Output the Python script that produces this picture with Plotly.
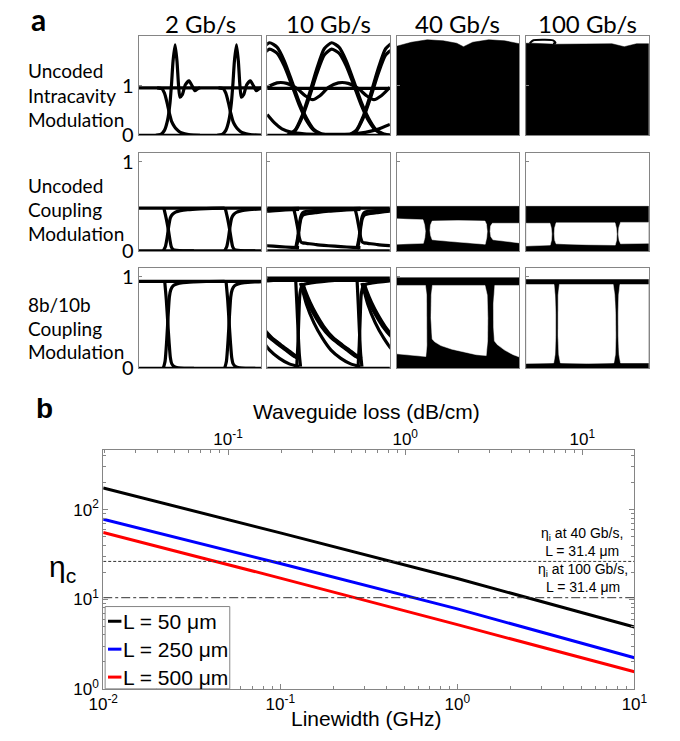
import plotly.graph_objects as go

W, H = 680, 741

# ---------------- Panel a : eye diagrams (x = fraction of the 2-UI window) ----------------
RATES = ["2 Gb/s", "10 Gb/s", "40 Gb/s", "100 Gb/s"]
ROW_LINES = [["Uncoded", "Intracavity", "Modulation"],
             ["Uncoded", "Coupling", "Modulation"],
             ["8b/10b", "Coupling", "Modulation"]]
ROW_YMAX = [2.0, 1.1, 1.1]
UI = [0.0, 0.5]            # two unit intervals per window
UI3 = [-0.5, 0.0, 0.5]

# row 1, 2 Gb/s
R1C1_ONE = 0.96
R1C1_FALL_X = [0.15, 0.19, 0.21, 0.23, 0.25, 0.27, 0.29, 0.31, 0.34, 0.375, 0.42, 0.5]
R1C1_FALL_Y = [0.96, 0.94, 0.85, 0.67, 0.45, 0.27, 0.18, 0.12, 0.06, 0.03, 0.01, 0.0]
R1C1_RISE_X = [0.14, 0.18, 0.21, 0.235, 0.255, 0.268, 0.28, 0.297, 0.312, 0.325, 0.336, 0.355, 0.38, 0.41, 0.435, 0.458, 0.48, 0.5]
R1C1_RISE_Y = [0.0, 0.02, 0.1, 0.3, 0.65, 1.05, 1.5, 1.83, 1.5, 1.0, 0.77, 0.82, 1.02, 1.1, 1.0, 0.9, 0.94, 0.96]
# row 1, 10 Gb/s
R1C2_ONE = 0.95
R1C2_PULSE_CENTERS = [0.02, 0.525, 1.025]
R1C2_PULSE_X = [-0.36, -0.3, -0.24, -0.18, -0.12, -0.06, 0.0, 0.06, 0.12, 0.18, 0.24, 0.3, 0.36, 0.42, 0.48]
R1C2_PULSE_Y = [0.0, 0.1, 0.4, 0.85, 1.35, 1.75, 1.87, 1.78, 1.5, 1.1, 0.68, 0.35, 0.12, 0.03, 0.0]
R1C2_PULSE2_Y = [0.0, 0.08, 0.36, 0.78, 1.25, 1.62, 1.74, 1.66, 1.4, 1.02, 0.62, 0.3, 0.1, 0.02, 0.0]
R1C2_WAVE_X = [0.0, 0.08, 0.16, 0.24, 0.31, 0.37, 0.43, 0.5, 0.58, 0.66, 0.74, 0.81, 0.87, 0.93, 1.0]
R1C2_WAVE_Y = [0.97, 1.06, 1.05, 0.95, 0.8, 0.72, 0.8, 0.97, 1.06, 1.05, 0.95, 0.8, 0.72, 0.8, 0.97]
R1C2_LOW_X = [0.0, 0.06, 0.12, 0.2, 0.3, 0.45, 0.6, 0.7, 0.8, 0.9, 1.0]
R1C2_LOW_Y = [0.42, 0.25, 0.13, 0.06, 0.03, 0.02, 0.02, 0.03, 0.06, 0.12, 0.22]
# row 1, 40 / 100 Gb/s (filled envelopes)
R1C3_TOP_X = [0.0, 0.12, 0.25, 0.38, 0.49, 0.545, 0.62, 0.75, 0.88, 1.0]
R1C3_TOP_Y = [1.8, 1.88, 1.93, 1.91, 1.86, 1.79, 1.88, 1.93, 1.91, 1.85]
R1C4_TOP_X = [0.0, 0.05, 0.25, 0.5, 0.7, 0.75, 0.8, 0.85, 0.9, 1.0]
R1C4_TOP_Y = [1.86, 1.86, 1.84, 1.85, 1.85, 1.82, 1.79, 1.82, 1.85, 1.85]
R1C4_LOOP_X = [0.03, 0.06, 0.15, 0.22, 0.24, 0.22]
R1C4_LOOP_Y = [1.86, 1.92, 1.93, 1.92, 1.87, 1.85]

# row 2, uncoded coupling modulation
R2_ONE = 0.48
R2_FILL_TOP = 0.5
R2C1_FALL_X = [0.205, 0.225, 0.24, 0.255, 0.265, 0.28, 0.31, 0.36, 0.45]
R2C1_FALL_Y = [0.48, 0.36, 0.25, 0.12, 0.05, 0.015, 0.005, 0.0, 0.0]
R2C1_RISE_X = [0.2, 0.218, 0.232, 0.245, 0.258, 0.275, 0.3, 0.34, 0.4, 0.5, 0.6, 0.7]
R2C1_RISE_Y = [0.0, 0.05, 0.15, 0.28, 0.37, 0.41, 0.435, 0.452, 0.463, 0.472, 0.477, 0.48]
R2C2_RISE_X = [0.235, 0.25, 0.262, 0.275, 0.29, 0.32, 0.4, 0.5, 0.6, 0.7, 0.76]
R2C2_RISE_Y = [0.02, 0.12, 0.26, 0.36, 0.4, 0.415, 0.43, 0.445, 0.455, 0.463, 0.466]
R2C2_RISE2_Y = [0.05, 0.16, 0.3, 0.39, 0.43, 0.445, 0.455, 0.465, 0.47, 0.475, 0.477]
R2C2_FALL_X = [0.215, 0.232, 0.248, 0.262, 0.275, 0.29, 0.32, 0.4, 0.5, 0.6, 0.7, 0.76]
R2C2_FALL_Y = [0.48, 0.38, 0.26, 0.15, 0.1, 0.09, 0.085, 0.07, 0.058, 0.048, 0.04, 0.036]
R2C3_EYES_X = [[0.0, 0.215, 0.228, 0.234, 0.23, 0.218, 0.0],
               [0.29, 0.5, 0.72, 0.732, 0.738, 0.734, 0.722, 0.6, 0.45, 0.29, 0.278, 0.272, 0.276],
               [0.78, 1.0, 1.0, 0.785, 0.768, 0.762, 0.766]]
R2C3_EYES_Y = [[0.36, 0.35, 0.29, 0.22, 0.15, 0.085, 0.075],
               [0.335, 0.34, 0.335, 0.3, 0.22, 0.15, 0.075, 0.085, 0.105, 0.125, 0.17, 0.23, 0.29],
               [0.31, 0.31, 0.09, 0.125, 0.16, 0.22, 0.28]]
R2C4_EYES_X = [[0.0, 0.195, 0.205, 0.21, 0.207, 0.197, 0.0],
               [0.245, 0.5, 0.725, 0.735, 0.74, 0.737, 0.727, 0.5, 0.245, 0.234, 0.23, 0.233],
               [0.77, 1.0, 1.0, 0.77, 0.758, 0.752, 0.756]]
R2C4_EYES_Y = [[0.31, 0.31, 0.26, 0.19, 0.12, 0.065, 0.055],
               [0.315, 0.315, 0.315, 0.26, 0.19, 0.12, 0.065, 0.07, 0.08, 0.12, 0.19, 0.26],
               [0.32, 0.32, 0.085, 0.08, 0.12, 0.19, 0.26]]

# row 3, 8b/10b coupling modulation
R3C1_ONE = 0.95
R3C1_FALL_X = [0.212, 0.225, 0.237, 0.248, 0.258, 0.27, 0.29, 0.32, 0.37, 0.45]
R3C1_FALL_Y = [0.95, 0.75, 0.5, 0.28, 0.12, 0.05, 0.02, 0.008, 0.002, 0.0]
R3C1_RISE_X = [0.2, 0.215, 0.228, 0.24, 0.25, 0.262, 0.28, 0.31, 0.36, 0.45, 0.55, 0.7]
R3C1_RISE_Y = [0.0, 0.08, 0.3, 0.58, 0.78, 0.86, 0.9, 0.92, 0.935, 0.943, 0.948, 0.95]
R3C2_TOP = [0.985, 0.96]
R3C2_RISE_X = [0.24, 0.25, 0.258, 0.266, 0.28, 0.31, 0.4, 0.5, 0.6, 0.7, 0.76]
R3C2_RISE_Y = [0.0, 0.25, 0.55, 0.8, 0.89, 0.92, 0.94, 0.955, 0.965, 0.975, 0.98]
R3C2_FALL_X = [0.232, 0.242, 0.252, 0.262, 0.272]
R3C2_FALL_Y = [0.98, 0.7, 0.4, 0.15, 0.02]
R3C2_DECAY_X = [0.28, 0.3, 0.34, 0.39, 0.45, 0.525, 0.6, 0.66, 0.73, 0.76]
R3C2_DECAY_Y = [0.93, 0.85, 0.72, 0.59, 0.46, 0.34, 0.26, 0.2, 0.13, 0.11]
R3C2_DECAY_DX = [-0.01, -0.003, 0.004, 0.011]
R3C2_FAST_X = [0.28, 0.32, 0.38, 0.45, 0.52, 0.6, 0.68, 0.76]
R3C2_FAST_Y = [0.9, 0.7, 0.5, 0.33, 0.2, 0.11, 0.05, 0.02]
R3C3_FILL_TOP = 0.99
R3C3_EYES_X = [[0.0, 0.235, 0.244, 0.248, 0.246, 0.238, 0.15, 0.0],
               [0.292, 0.72, 0.738, 0.743, 0.741, 0.73, 0.65, 0.55, 0.45, 0.36, 0.31, 0.29, 0.28, 0.283],
               [0.8, 1.0, 1.0, 0.95, 0.88, 0.82, 0.797, 0.79, 0.789, 0.793]]
R3C3_EYES_Y = [[0.905, 0.905, 0.8, 0.5, 0.25, 0.13, 0.14, 0.16],
               [0.905, 0.905, 0.8, 0.55, 0.3, 0.14, 0.15, 0.18, 0.21, 0.25, 0.29, 0.32, 0.55, 0.8],
               [0.905, 0.905, 0.125, 0.15, 0.2, 0.26, 0.3, 0.45, 0.7, 0.85]]
R3C4_FILL_TOP = 0.97
R3C4_EYES_X = [[0.0, 0.228, 0.236, 0.241, 0.241, 0.236, 0.225, 0.0],
               [0.272, 0.71, 0.722, 0.729, 0.731, 0.727, 0.715, 0.5, 0.28, 0.267, 0.261, 0.259, 0.262],
               [0.765, 1.0, 1.0, 0.77, 0.758, 0.752, 0.751, 0.755]]
R3C4_EYES_Y = [[0.915, 0.915, 0.8, 0.6, 0.35, 0.15, 0.06, 0.055],
               [0.915, 0.915, 0.8, 0.6, 0.35, 0.15, 0.06, 0.055, 0.06, 0.15, 0.35, 0.6, 0.8],
               [0.915, 0.915, 0.06, 0.06, 0.15, 0.35, 0.6, 0.8]]

# ---------------- Panel b : eta_c vs linewidth ----------------
LINEWIDTH_GHZ = [0.01, 0.1, 1.0, 10.0]
ETA_L50 = [174, 55, 17.0, 4.9]
ETA_L250 = [78, 25, 7.8, 2.22]
ETA_L500 = [55.6, 17.2, 5.2, 1.55]
SERIES_NAMES = ["L = 50 \u03bcm", "L = 250 \u03bcm", "L = 500 \u03bcm"]
SERIES_COLORS = ["#000000", "#0000ff", "#ff0000"]
ETA_I_40 = 26.4
ETA_I_100 = 10.4
X_RANGE_LOG = [-2, 1]
LOSS_RANGE_LOG = [-1.705, 1.294]
Y_RANGE_LOG = [0, 2.667]

# ---------------- layout geometry (pixels) ----------------
COL_LEFT = [129, 263, 398, 533]
COL_W = 128
ROW_TOP = [33, 152, 269]
ROW_BOT = [134, 252, 372]
B_LEFT, B_RIGHT, B_TOP, B_BOT = 92, 646, 455, 699

fig = go.Figure()
EYE_FONT = "Lato, 'Open Sans', sans-serif"
MAT_FONT = "'Liberation Sans', Arial, sans-serif"
FRAME = "#858585"


def ax(k):
    return ("x" if k == 1 else f"x{k}"), ("y" if k == 1 else f"y{k}")


def add_line(k, xs, ys, shifts=(0.0,), width=3.2, dx=0.0):
    xa, ya = ax(k)
    for s in shifts:
        fig.add_trace(go.Scatter(x=[v + s + dx for v in xs], y=ys, mode="lines",
                                 line=dict(color="black", width=width, shape="spline", smoothing=0.6),
                                 xaxis=xa, yaxis=ya, showlegend=False, hoverinfo="skip"))


def add_poly(k, xs, ys, color):
    xa, ya = ax(k)
    fig.add_trace(go.Scatter(x=list(xs) + [xs[0]], y=list(ys) + [ys[0]], mode="lines",
                             fill="toself", fillcolor=color, line=dict(color=color, width=0.5),
                             xaxis=xa, yaxis=ya, showlegend=False, hoverinfo="skip"))


# ----- row 1 -----
add_line(1, [0, 1], [R1C1_ONE, R1C1_ONE])
add_line(1, [0, 1], [0, 0])
add_line(1, R1C1_FALL_X, R1C1_FALL_Y, UI)
add_line(1, R1C1_RISE_X, R1C1_RISE_Y, UI)

add_line(2, [0, 1], [R1C2_ONE, R1C2_ONE])
add_line(2, [0, 1], [0, 0])
add_line(2, R1C2_WAVE_X, R1C2_WAVE_Y)
add_line(2, R1C2_LOW_X, R1C2_LOW_Y)
add_line(2, R1C2_PULSE_X, R1C2_PULSE_Y, R1C2_PULSE_CENTERS)
add_line(2, R1C2_PULSE_X, R1C2_PULSE2_Y, R1C2_PULSE_CENTERS)

add_poly(3, R1C3_TOP_X + [1.0, 0.0], R1C3_TOP_Y + [0.0, 0.0], "black")
add_poly(4, R1C4_TOP_X + [1.0, 0.0], R1C4_TOP_Y + [0.0, 0.0], "black")
add_line(4, R1C4_LOOP_X, R1C4_LOOP_Y, width=2)

# ----- row 2 -----
add_line(5, [0, 1], [R2_ONE, R2_ONE])
add_line(5, [0, 1], [0, 0])
add_line(5, R2C1_FALL_X, R2C1_FALL_Y, UI)
add_line(5, R2C1_RISE_X, R2C1_RISE_Y, UI)

add_line(6, [0, 1], [R2_ONE, R2_ONE])
add_line(6, [0, 1], [0, 0])
add_line(6, R2C2_RISE_X, R2C2_RISE_Y, UI3)
add_line(6, R2C2_RISE_X, R2C2_RISE2_Y, UI3)
add_line(6, R2C2_FALL_X, R2C2_FALL_Y, UI3)

for k, ex, ey in [(7, R2C3_EYES_X, R2C3_EYES_Y), (8, R2C4_EYES_X, R2C4_EYES_Y)]:
    add_poly(k, [0, 1, 1, 0], [0, 0, R2_FILL_TOP, R2_FILL_TOP], "black")
    for xs, ys in zip(ex, ey):
        add_poly(k, xs, ys, "white")

# ----- row 3 -----
add_line(9, [0, 1], [R3C1_ONE, R3C1_ONE])
add_line(9, [0, 1], [0, 0])
add_line(9, R3C1_FALL_X, R3C1_FALL_Y, UI)
add_line(9, R3C1_RISE_X, R3C1_RISE_Y, UI)

for yv in R3C2_TOP:
    add_line(10, [0, 1], [yv, yv])
add_line(10, [0, 1], [0, 0])
add_line(10, R3C2_RISE_X, R3C2_RISE_Y, UI3)
add_line(10, R3C2_FALL_X, R3C2_FALL_Y, UI3)
for d in R3C2_DECAY_DX:
    add_line(10, R3C2_DECAY_X, R3C2_DECAY_Y, UI3, width=3, dx=d)
add_line(10, R3C2_FAST_X, R3C2_FAST_Y, UI3)

for k, top, ex, ey in [(11, R3C3_FILL_TOP, R3C3_EYES_X, R3C3_EYES_Y), (12, R3C4_FILL_TOP, R3C4_EYES_X, R3C4_EYES_Y)]:
    add_poly(k, [0, 1, 1, 0], [0, 0, top, top], "black")
    for xs, ys in zip(ex, ey):
        add_poly(k, xs, ys, "white")

# ----- panel b traces -----
for ys, name, col in zip([ETA_L50, ETA_L250, ETA_L500], SERIES_NAMES, SERIES_COLORS):
    fig.add_trace(go.Scatter(x=LINEWIDTH_GHZ, y=ys, mode="lines", name=name,
                             line=dict(color=col, width=3), xaxis="x13", yaxis="y13", showlegend=False))
fig.add_trace(go.Scatter(x=[LINEWIDTH_GHZ[0], LINEWIDTH_GHZ[-1]], y=[ETA_I_40, ETA_I_40], mode="lines",
                         line=dict(color="#333333", width=1, dash="3px,2px"), xaxis="x13", yaxis="y13",
                         showlegend=False))
fig.add_trace(go.Scatter(x=[LINEWIDTH_GHZ[0], LINEWIDTH_GHZ[-1]], y=[ETA_I_100, ETA_I_100], mode="lines",
                         line=dict(color="#333333", width=1, dash="dashdot"), xaxis="x13", yaxis="y13",
                         showlegend=False))
fig.add_trace(go.Scatter(x=[0.02, 17], y=[None, None], mode="lines", xaxis="x14", yaxis="y13",
                         showlegend=False, hoverinfo="skip"))

# ----- axes -----
layout = dict(width=W, height=H, margin=dict(l=0, r=0, t=0, b=0), autosize=False,
              paper_bgcolor="white", plot_bgcolor="white", showlegend=False)


def dx(a, b):
    return [a / W, b / W]


def dy(top, bot):
    return [1 - bot / H, 1 - top / H]


for r in range(3):
    for c in range(4):
        k = r * 4 + c + 1
        xn = "xaxis" if k == 1 else f"xaxis{k}"
        yn = "yaxis" if k == 1 else f"yaxis{k}"
        xa, ya = ax(k)
        layout[xn] = dict(domain=dx(COL_LEFT[c], COL_LEFT[c] + COL_W), range=[0, 1], anchor=ya,
                          showgrid=False, zeroline=False, showticklabels=False, ticks="",
                          showline=True, mirror=True, linecolor=FRAME, linewidth=1)
        layout[yn] = dict(domain=dy(ROW_TOP[r], ROW_BOT[r]), range=[0, ROW_YMAX[r]], anchor=xa,
                          showgrid=False, zeroline=False, tickvals=[0, 1], ticktext=["0", "1"],
                          showticklabels=(c == 0), ticks="inside", ticklen=3, tickcolor=FRAME,
                          tickfont=dict(family=EYE_FONT, size=20, color="black"),
                          showline=True, mirror=True, linecolor=FRAME, linewidth=1)

tickfont_b = dict(family=MAT_FONT, size=17, color="black")
minor = dict(ticks="inside", ticklen=3, tickcolor=FRAME, dtick="D1", showgrid=False)
layout["xaxis13"] = dict(domain=dx(B_LEFT, B_RIGHT), type="log", range=X_RANGE_LOG, anchor="y13",
                         tickvals=[0.01, 0.1, 1, 10],
                         ticktext=["10<sup>-2</sup>", "10<sup>-1</sup>", "10<sup>0</sup>", "10<sup>1</sup>"],
                         ticks="inside", ticklen=5, tickcolor=FRAME, minor=minor,
                         showgrid=False, zeroline=False, showline=True, mirror=True,
                         linecolor=FRAME, linewidth=1, tickfont=tickfont_b)
layout["xaxis14"] = dict(type="log", range=LOSS_RANGE_LOG, overlaying="x13", side="top", anchor="y13",
                         tickvals=[0.1, 1, 10],
                         ticktext=["10<sup>-1</sup>", "10<sup>0</sup>", "10<sup>1</sup>"],
                         ticks="inside", ticklen=5, tickcolor=FRAME, minor=minor,
                         showgrid=False, zeroline=False, showline=False, tickfont=tickfont_b)
layout["yaxis13"] = dict(domain=dy(B_TOP, B_BOT), type="log", range=Y_RANGE_LOG, anchor="x13",
                         tickvals=[1, 10, 100],
                         ticktext=["10<sup>0</sup>", "10<sup>1</sup>", "10<sup>2</sup>"],
                         ticks="inside", ticklen=5, tickcolor=FRAME, minor=minor,
                         showgrid=False, zeroline=False, showline=True, mirror="ticks",
                         linecolor=FRAME, linewidth=1, tickfont=tickfont_b)

ann = []


def text(x, y, s, size, family, xanchor="center", bold=False, color="black", yanchor="middle"):
    if bold:
        s = f"<b>{s}</b>"
    ann.append(dict(x=x / W, y=1 - y / H, xref="paper", yref="paper", text=s, showarrow=False,
                    xanchor=xanchor, yanchor=yanchor, borderpad=0,
                    font=dict(size=size, family=family, color=color)))


text(25, 15, "a", 30, EYE_FONT, bold=True)
for c, rate in enumerate(RATES):
    text(COL_LEFT[c] + COL_W / 2, 20, rate, 24, EYE_FONT)
ROW_LINE_Y = [[68, 93, 118], [185, 210, 234], [307, 331, 355]]
for lines, ys in zip(ROW_LINES, ROW_LINE_Y):
    for s, yv in zip(lines, ys):
        text(12, yv, s, 19, EYE_FONT, xanchor="left")

text(31, 413, "b", 28, MAT_FONT, bold=True)
text(367, 416, "Waveguide loss (dB/cm)", 21, MAT_FONT)
text(367, 729, "Linewidth (GHz)", 21, MAT_FONT)
text(50, 576, "\u03b7<sub>c</sub>", 30, MAT_FONT)
text(591, 567, "\u03b7<sub>i</sub> at 40 Gb/s,<br>L = 31.4 \u03bcm", 14, MAT_FONT, yanchor="bottom")
text(592, 604, "\u03b7<sub>i</sub> at 100 Gb/s,<br>L = 31.4 \u03bcm", 14, MAT_FONT, yanchor="bottom")

# manual legend
LEG_L, LEG_R, LEG_T, LEG_B = 94, 224, 615, 699
shapes = [dict(type="rect", xref="paper", yref="paper", x0=LEG_L / W, x1=LEG_R / W,
               y0=1 - LEG_B / H, y1=1 - LEG_T / H, line=dict(color=FRAME, width=1), fillcolor="white",
               layer="above")]
for i, (name, col) in enumerate(zip(SERIES_NAMES, SERIES_COLORS)):
    yv = 630 + i * 28.5
    shapes.append(dict(type="line", xref="paper", yref="paper", x0=97 / W, x1=111 / W,
                       y0=1 - yv / H, y1=1 - yv / H, line=dict(color=col, width=3), layer="above"))
    text(112, yv, name, 21, MAT_FONT, xanchor="left")

layout["annotations"] = ann
layout["shapes"] = shapes
fig.update_layout(**layout)
PAGE_FIX = ("document.documentElement.style.margin='0px';document.body.style.margin='0px';"
            "document.documentElement.style.overflow='hidden';document.body.style.overflow='hidden';")
fig.write_html("out.html", config={"displayModeBar": False}, post_script=PAGE_FIX)
